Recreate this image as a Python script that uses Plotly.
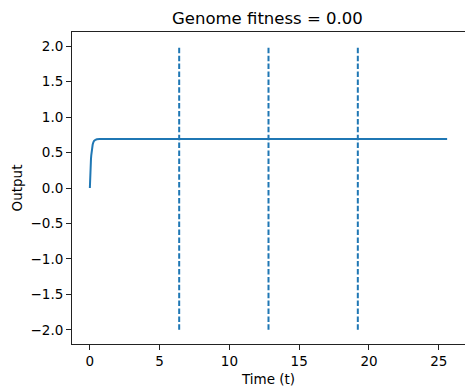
import plotly.graph_objects as go

# Output trace (time, value)
time_t = [0.0, 0.01, 0.02, 0.04, 0.06, 0.08, 0.1, 0.13, 0.16, 0.2, 0.25, 0.3, 0.4, 0.5, 0.7, 1.0, 5.0, 10.0, 15.0, 20.0, 25.6]
output = [0.0, 0.12, 0.22, 0.33, 0.37, 0.41, 0.46, 0.52, 0.57, 0.61, 0.645, 0.665, 0.68, 0.688, 0.69, 0.69, 0.69, 0.69, 0.69, 0.69, 0.69]

# Event markers (dashed vertical lines)
event_times = [6.4, 12.8, 19.2]
event_ymin = -2.0
event_ymax = 2.0

title_text = "Genome fitness = 0.00"
blue = "#1f77b4"
font_family = "DejaVu Sans, sans-serif"

fig = go.Figure()
fig.add_trace(go.Scatter(x=time_t, y=output, mode="lines",
                         line=dict(color=blue, width=2), showlegend=False))
for et in event_times:
    fig.add_trace(go.Scatter(x=[et, et], y=[event_ymin, event_ymax], mode="lines",
                             line=dict(color=blue, width=2, dash="5.5px,2.4px"),
                             showlegend=False))

axis_common = dict(showgrid=False, zeroline=False, showline=True, linecolor="#222222",
                   linewidth=1, ticks="outside", ticklen=5, tickcolor="#222222",
                   tickfont=dict(family=font_family, size=13.5, color="black"))

fig.update_layout(
    width=465, height=389,
    margin=dict(l=72, r=0, t=32, b=45),
    plot_bgcolor="white", paper_bgcolor="white",
    title=dict(text=title_text, x=0.575, xanchor="center", y=0.953, yanchor="middle",
               font=dict(family=font_family, size=16.5, color="black")),
    xaxis=dict(range=[-1.28, 26.88], tickvals=[0, 5, 10, 15, 20, 25], mirror=True,
               title=dict(text="Time (t)", standoff=6,
                          font=dict(family=font_family, size=13.5, color="black")),
               **axis_common),
    yaxis=dict(range=[-2.2, 2.2], tickvals=[-2, -1.5, -1, -0.5, 0, 0.5, 1, 1.5, 2],
               tickformat=".1f", mirror=False,
               title=dict(text="Output", standoff=4,
                          font=dict(family=font_family, size=13.5, color="black")),
               **axis_common),
)

fig.write_html("out.html")
